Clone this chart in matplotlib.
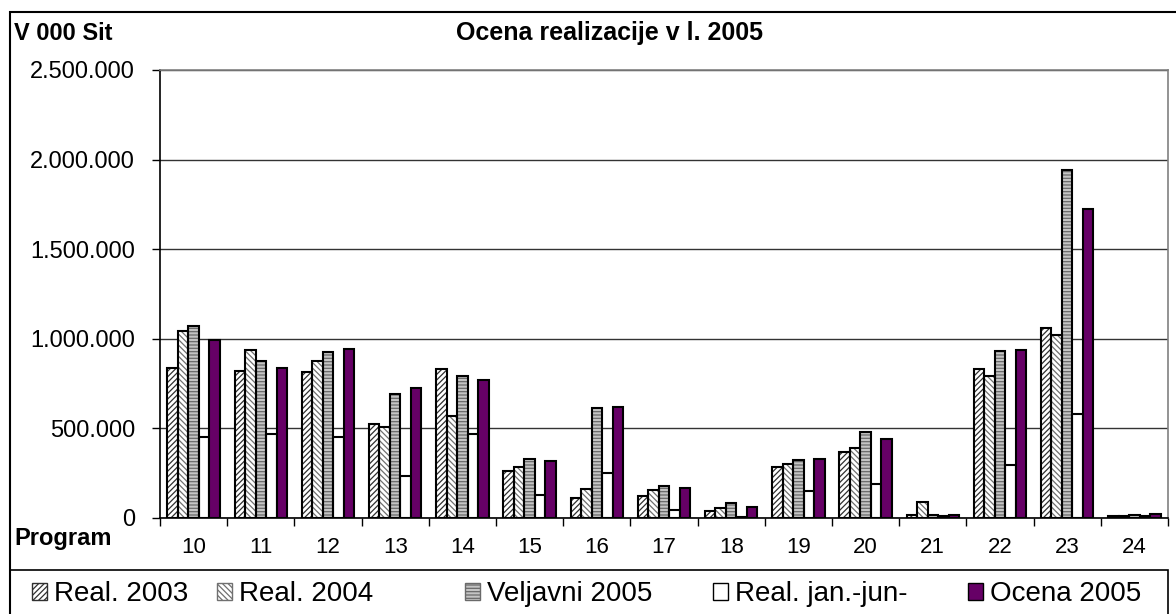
import matplotlib.pyplot as plt
import numpy as np
from matplotlib.patches import Patch, Rectangle
from matplotlib.ticker import FuncFormatter, MultipleLocator

plt.rcParams['font.family'] = ['Liberation Sans', 'DejaVu Sans']
plt.rcParams['hatch.linewidth'] = 0.9

# podatki (v 000 Sit)
programi = ['10', '11', '12', '13', '14', '15', '16', '17', '18', '19', '20', '21', '22', '23', '24']
real_2003 = [839000, 818000, 815000, 526000, 829000, 264000, 114000, 121000, 37000, 282000, 367000, 15000, 833000, 1063000, 9000]
real_2004 = [1046000, 937000, 876000, 506000, 568000, 287000, 163000, 154000, 54000, 303000, 390000, 89000, 795000, 1019000, 9000]
veljavni_2005 = [1070000, 876000, 929000, 690000, 790000, 328000, 614000, 176000, 84000, 325000, 479000, 15000, 934000, 1942000, 16000]
real_jan_jun = [450000, 467000, 450000, 237000, 470000, 131000, 253000, 47000, 8000, 152000, 189000, 10000, 295000, 579000, 9000]
ocena_2005 = [994000, 837000, 944000, 725000, 768000, 320000, 620000, 169000, 61000, 329000, 442000, 15000, 938000, 1723000, 25000]

serije = [
    ('Real. 2003', real_2003, 'white', '#303030', '//////'),
    ('Real. 2004', real_2004, 'white', '#707070', '\\\\\\\\\\\\'),
    ('Veljavni 2005', veljavni_2005, '#c4c4c4', '#6a6a6a', '-----'),
    ('Real. jan.-jun-', real_jan_jun, 'white', 'black', None),
    ('Ocena 2005', ocena_2005, '#660066', 'black', None),
]

fig = plt.figure(figsize=(11.76, 6.14), dpi=100)
W, H = 1176, 614
ax = fig.add_axes([160 / W, (H - 518) / H, (1168 - 160) / W, (518 - 70) / H])

x = np.arange(len(programi))
sirina = 0.156
handles = []
for i, (ime, vrednosti, barva, crte, vzorec) in enumerate(serije):
    poz = x - 2 * sirina + i * sirina
    if vzorec:
        ax.bar(poz, vrednosti, sirina, color=barva, edgecolor=crte, hatch=vzorec, linewidth=0, zorder=3)
        ax.bar(poz, vrednosti, sirina, fill=False, edgecolor='black', linewidth=1.5, zorder=4)
        handles.append(Patch(facecolor=barva, edgecolor=crte, hatch=vzorec, linewidth=1, label=ime))
    else:
        ax.bar(poz, vrednosti, sirina, color=barva, edgecolor='black', linewidth=1.5, zorder=3)
        handles.append(Patch(facecolor=barva, edgecolor='black', linewidth=1, label=ime))

ax.set_xlim(-0.5, len(programi) - 0.5)
ax.set_ylim(0, 2500000)
ax.yaxis.set_major_locator(MultipleLocator(500000))
ax.yaxis.set_major_formatter(FuncFormatter(lambda v, p: '{:,.0f}'.format(v).replace(',', '.')))
ax.grid(axis='y', color='#333333', linewidth=1, zorder=0)

ax.set_xticks(x)
ax.set_xticklabels(programi)
ax.set_xticks(np.arange(len(programi) + 1) - 0.5, minor=True)
ax.tick_params(axis='x', which='major', length=0, labelsize=16, pad=14)
ax.tick_params(axis='x', which='minor', length=6, width=1, direction='out')
ax.tick_params(axis='y', length=6, width=1, labelsize=17, pad=12)

for s in ['top', 'right']:
    ax.spines[s].set_color('#808080')
    ax.spines[s].set_linewidth(1.2)
ax.spines['left'].set_linewidth(1.2)
ax.spines['bottom'].set_linewidth(1.2)

fig.text(609 / W, 1 - 33 / H, 'Ocena realizacije v l. 2005', ha='center', va='center',
         fontsize=18, fontweight='bold')
fig.text(14 / W, 1 - 33 / H, 'V 000 Sit', ha='left', va='center', fontsize=17, fontweight='bold')
fig.text(14 / W, 1 - 539 / H, 'Program', ha='left', va='center', fontsize=17, fontweight='bold')

# zunanji okvir grafa
fig.add_artist(Rectangle((10 / W, -0.01), (1190 - 10) / W, (H - 12) / H + 0.01,
                         transform=fig.transFigure, fill=False, edgecolor='black', linewidth=1.5))
# okvir legende
fig.add_artist(Rectangle((10 / W, -0.01), (1168 - 10) / W, (H - 570) / H + 0.01,
                         transform=fig.transFigure, fill=False, edgecolor='black', linewidth=1.2))

# legenda - vsak vnos na svojem mestu
leg_x = [32, 217, 465, 713, 968]
for h, lx in zip(handles, leg_x):
    fig.legend(handles=[h], loc='center left', bbox_to_anchor=(lx / W, (H - 594) / H),
               fontsize=20, frameon=False, handlelength=0.55, handleheight=0.55,
               handletextpad=0.25, borderaxespad=0, borderpad=0)

fig.savefig('out.png', dpi=100)
